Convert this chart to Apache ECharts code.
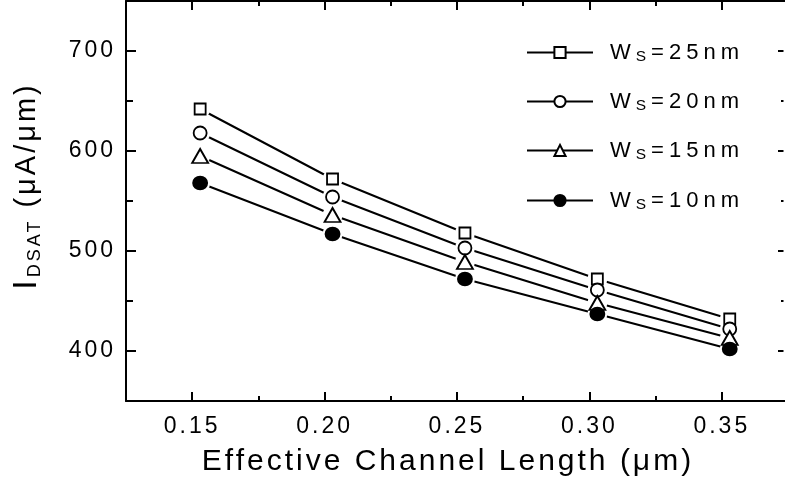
<!DOCTYPE html>
<html><head><meta charset="utf-8">
<script src="https://cdn.jsdelivr.net/npm/echarts@6/dist/echarts.min.js"></script>
<style>html,body{margin:0;padding:0;background:#fff;overflow:hidden}#c{width:785px;height:486px}</style>
</head><body><div id="c"></div>
<script>
// Data
var xLengths = [0.153, 0.203, 0.253, 0.303, 0.353];
var ws25 = [642, 572, 518, 472, 432];
var ws20 = [618, 554, 503, 461, 422];
var ws15 = [595, 536, 489, 448, 413];
var ws10 = [568, 517, 472, 437, 402];
var seriesNames = ['Ws=25nm', 'Ws=20nm', 'Ws=15nm', 'Ws=10nm'];
var seriesWidths = ['25', '20', '15', '10'];
var xTickLabels = [0.15, 0.20, 0.25, 0.30, 0.35];
var xMinorTicks = [0.175, 0.225, 0.275, 0.325];
var yTickLabels = [400, 500, 600, 700];
var yMinorTicks = [450, 550, 650];

// Origin-style letter spacing for the text
function spacingFor(font) {
  var m = /(\d+(?:\.\d+)?)px/.exec(font || '');
  var s = m ? parseFloat(m[1]) : 12;
  if (s === 22 || s === 15.5) return '5px';
  return '3px';
}
(function () {
  var proto = CanvasRenderingContext2D.prototype;
  var of = proto.fillText, os = proto.strokeText;
  proto.fillText = function () { try { this.letterSpacing = spacingFor(this.font); } catch (e) {} return of.apply(this, arguments); };
  proto.strokeText = function () { try { this.letterSpacing = spacingFor(this.font); } catch (e) {} return os.apply(this, arguments); };
})();
var mctx = document.createElement('canvas').getContext('2d');
if (echarts.setPlatformAPI) {
  echarts.setPlatformAPI({ measureText: function (text, font) {
    mctx.font = font; try { mctx.letterSpacing = spacingFor(font); } catch (e) {}
    return mctx.measureText(text);
  } });
}

var allData = [ws25, ws20, ws15, ws10];
var symbols = ['rect', 'circle', 'triangle', 'circle'];
var symSizes = [[11, 11], [13, 13], [16, 14], [14, 13]];
var fills = ['#fff', '#fff', '#fff', '#000'];

function pairs(vals) { return xLengths.map(function (x, i) { return [x, vals[i]]; }); }

var FONT = 'Liberation Sans, Arial, sans-serif';
var series = [];
allData.forEach(function (d, i) {
  series.push({ name: 'line' + i, type: 'line', data: pairs(d), z: 1, symbol: 'none', silent: true,
    lineStyle: { color: '#000', width: 2 } });
});
allData.forEach(function (d, i) {
  series.push({ name: 'halo' + i, type: 'line', data: pairs(d), z: 2, symbol: 'circle', symbolSize: 20,
    showSymbol: true, silent: true, lineStyle: { width: 0, opacity: 0 },
    itemStyle: { color: '#fff', borderWidth: 0 } });
});
allData.forEach(function (d, i) {
  series.push({ name: seriesNames[i], type: 'line', data: pairs(d), z: 3, symbol: symbols[i],
    symbolSize: symSizes[i], showSymbol: true, silent: true,
    lineStyle: { width: 0, opacity: 0, color: '#000' },
    itemStyle: { color: fills[i], borderColor: '#000', borderWidth: 1.8 } });
});

var legendTops = [34, 83, 132, 182];
var legends = seriesNames.map(function (n, i) {
  return {
    data: [n], orient: 'vertical', left: 521, top: legendTops[i],
    itemWidth: 66, itemHeight: 14, selectedMode: false,
    lineStyle: { color: '#000', width: 2, opacity: 1 },
    formatter: function (name) { return '{p|}{a|W}{b|S}{a|=' + seriesWidths[seriesNames.indexOf(name)] + 'nm}'; },
    textStyle: {
      fontFamily: FONT, color: '#000',
      rich: {
        p: { width: 12, lineHeight: 30 },
        a: { fontSize: 22, fontFamily: FONT, color: '#000', lineHeight: 30 },
        b: { fontSize: 15.5, fontFamily: FONT, color: '#000', verticalAlign: 'bottom', lineHeight: 14 }
      }
    }
  };
});

var axisLine = { show: true, onZero: false, lineStyle: { color: '#000', width: 2 } };
function xAx(pos, ticks, len, showLabel, showLine, name) {
  var o = {
    type: 'value', position: pos, min: 0.125, max: 0.375, gridIndex: 0,
    axisLine: showLine ? axisLine : { show: false, onZero: false },
    axisTick: { show: true, inside: true, length: len, customValues: ticks, lineStyle: { color: '#000', width: 2 } },
    axisLabel: showLabel ? { show: true, customValues: xTickLabels, margin: 13, fontSize: 23, fontFamily: FONT, color: '#000',
      formatter: function (v) { return v.toFixed(2); } } : { show: false },
    splitLine: { show: false }
  };
  if (name) {
    o.name = name; o.nameLocation = 'middle'; o.nameGap = 44;
    o.nameTextStyle = { fontSize: 30, fontFamily: FONT, color: '#000', padding: [0, 18, 0, 0] };
  }
  return o;
}
function yAx(pos, ticks, len, showLabel, showLine, name) {
  var o = {
    type: 'value', position: pos, min: 350, max: 750, gridIndex: 0,
    axisLine: showLine ? axisLine : { show: false, onZero: false },
    axisTick: { show: true, inside: true, length: len, customValues: ticks, lineStyle: { color: '#000', width: 2 } },
    axisLabel: showLabel ? { show: true, customValues: yTickLabels, margin: 10, fontSize: 23, fontFamily: FONT, color: '#000' } : { show: false },
    splitLine: { show: false }
  };
  if (name) {
    o.name = name; o.nameLocation = 'middle'; o.nameGap = 80;
    o.nameTextStyle = { fontFamily: FONT, color: '#000', padding: [0, 0, 0, 30],
      rich: {
        i: { fontSize: 34, fontFamily: FONT, color: '#000', lineHeight: 38 },
        s: { fontSize: 18, fontFamily: FONT, color: '#000', verticalAlign: 'bottom', lineHeight: 17 },
        t: { fontSize: 29, fontFamily: FONT, color: '#000', lineHeight: 38 }
      } };
  }
  return o;
}

var option = {
  backgroundColor: '#fff',
  animation: false,
  grid: { left: 126, right: -3, top: 1, bottom: 85, containLabel: false, outerBoundsMode: 'none' },
  legend: legends,
  graphic: [{ type: 'rect', right: 0, top: 3, z: 100, silent: true,
    shape: { width: 1.5, height: 396 }, style: { fill: '#fff' } }],
  xAxis: [
    xAx('bottom', xTickLabels, 9, true, true, 'Effective Channel Length (μm)'),
    xAx('bottom', xMinorTicks, 5, false, false),
    xAx('top', xTickLabels, 9, false, true),
    xAx('top', xMinorTicks, 5, false, false)
  ],
  yAxis: [
    yAx('left', yTickLabels, 10, true, true, '{i|I}{s|DSAT}{t| (μA/μm)}'),
    yAx('left', yMinorTicks, 7, false, false),
    yAx('right', yTickLabels, 10, false, false),
    yAx('right', yMinorTicks, 7, false, false)
  ],
  series: series
};
var chart = echarts.init(document.getElementById('c'), null, { renderer: 'canvas' });
chart.setOption(option);
</script></body></html>
